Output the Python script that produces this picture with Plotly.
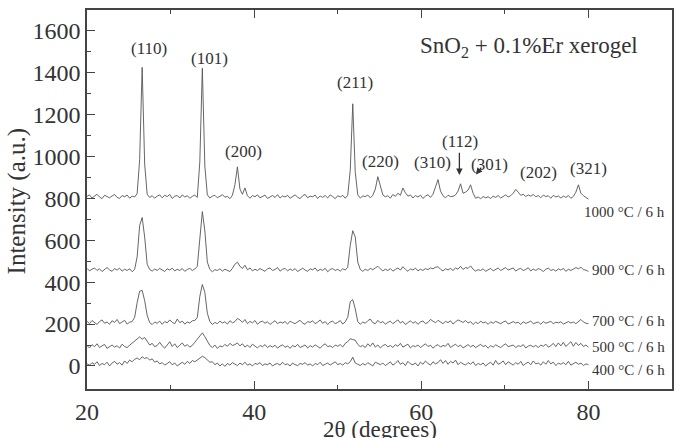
import numpy as np
import plotly.graph_objects as go

# 2-theta sampling (degrees), 20..80 in 0.3 steps
two_theta = np.linspace(20, 80, 201)

# vertical stacking offsets of each pattern (a.u.)
offsets = {"1000": 805, "900": 456, "700": 202, "500": 88, "400": 0}

i1000 = [
    5, 12, -3, 8, 15, 2, -6, 10, 4, -2,
    7, 14, 0, -5, 9, 3, 11, -4, 6, 2,
    18, 180, 621, 160, 15, 0, 8, -4, 6, 12,
    -2, 10, 4, 14, -5, 6, 9, -3, 12, 2,
    8, -4, 5, 11, 0, 170, 617, 150, 12, -3,
    6, 10, -2, 7, 13, 1, 5, -6, 10, 60,
    146, 40, 15, 45, 8, -4, 9, 3, 12, -2,
    6, 11, -5, 4, 9, 0, 13, -3, 7, 2,
    10, -4, 5, 12, 1, -6, 8, 14, -2, 6,
    3, 11, -5, 7, 0, 9, -3, 12, 4, -6,
    8, 2, 10, -4, 10, 130, 447, 120, 12, -3,
    7, 4, 11, -2, 10, 40, 99, 60, 12, 3,
    8, -4, 14, 5, 20, 10, 45, 22, 6, 12,
    -3, 9, 2, 11, -5, 6, 13, 0, 15, 50,
    85, 30, 8, -2, 10, 4, 5, 12, 30, 65,
    20, 25, 35, 60, 20, -4, 2, -6, 4, -2,
    3, -5, 6, 0, 9, -3, 5, 12, 2, 8,
    20, 38, 25, 10, 15, 4, 12, 6, 14, 3,
    9, -2, 11, 4, 8, -4, 10, 2, 7, -3,
    6, 0, 9, -4, 5, 25, 60, 20, 8, 2,
    -8]

i900 = [
    10, -2, 6, 12, 0, 8, -5, 4, 14, 3,
    -4, 9, 2, 11, -3, 6, 0, 8, -6, 5,
    65, 215, 253, 160, 30, 5, -3, 7, 0, 10,
    4, -5, 8, 2, 11, -2, 6, 0, 9, -4,
    5, 10, 0, 7, 20, 160, 281, 190, 40, 5,
    -6, 4, 0, 8, -3, 6, 2, -5, 10, 30,
    40, 20, 10, 25, 3, 12, -2, 6, 0, 9,
    3, -4, 8, 12, 0, 5, 14, -3, 6, 10,
    -2, 7, 0, 9, -5, 4, 11, 2, -4, 8,
    3, 12, -3, 6, 0, 10, -6, 5, 9, 0,
    6, -3, 8, 2, 15, 120, 190, 160, 40, 5,
    -4, 6, 0, 10, 4, 12, 20, 8, -2, 6,
    0, 9, -3, 5, 12, 2, 18, 6, -4, 8,
    2, 11, -2, 6, 0, 9, 4, 12, 8, 15,
    18, 6, -2, 8, 3, 10, 0, 12, 6, 20,
    5, 14, 10, 22, 6, -3, 4, 0, 8, -4,
    5, 10, -2, 6, 12, 0, 8, 14, 2, 9,
    12, -3, 6, 10, 0, 5, 13, -2, 7, 0,
    9, 4, -5, 6, 11, 0, 5, -3, 8, 2,
    10, -4, 6, 0, 9, 14, 8, 16, 4, 2,
    -5]

i700 = [
    12, 0, 15, 5, -4, 10, 18, 2, 8, -3,
    14, 6, 20, 0, 9, 16, -2, 7, 10, 30,
    100, 155, 159, 110, 40, 5, -4, 8, 2, 12,
    -3, 10, 4, 18, 6, 0, 22, 5, 12, -2,
    8, 3, 14, 15, 30, 130, 187, 150, 50, 10,
    -4, 6, 0, 12, 3, 9, -2, 14, 4, 10,
    25, 18, 6, 20, 0, 11, 4, 15, -3, 8,
    12, 2, 9, -4, 6, 14, 0, 8, 3, 10,
    -2, 12, 5, 0, 9, 16, 3, -3, 10, 6,
    14, 0, 7, 18, 2, 10, -4, 8, 12, 0,
    6, 15, -2, 9, 30, 105, 115, 70, 10, -3,
    8, 2, 14, 22, 5, 0, 16, 4, 10, -2,
    6, 12, 0, 9, 18, 3, 11, -4, 7, 14,
    2, 10, -3, 8, 13, 0, 6, 20, 12, 4,
    16, 8, 0, 11, 5, 14, -2, 9, 18, 12,
    6, 15, 3, 10, -4, 7, 0, 12, 4, 8,
    -3, 9, 2, 11, 5, 0, 8, 13, -2, 6,
    10, 3, 7, -4, 9, 1, 6, 12, 0, 5,
    8, -3, 10, 2, 6, 11, 0, 7, 4, 9,
    -2, 6, 10, 3, 8, 0, 12, 20, 8, 2,
    0]

i500 = [
    10, -2, 14, 4, 18, 0, 8, 15, -4, 6,
    12, 2, 9, -3, 16, 5, 0, 11, 20, 30,
    38, 51, 40, 48, 30, 12, 20, 4, 10, 25,
    8, -3, 12, 28, 5, 18, 0, 9, 22, 6,
    14, 2, 10, 25, 40, 58, 70, 52, 30, 10,
    0, 12, -4, 8, 3, 15, 6, 20, 10, 14,
    22, 8, 18, 2, 12, 0, 16, 6, -2, 10,
    4, 14, 0, 9, 2, 11, -3, 7, 13, 1,
    8, -4, 10, 3, 15, 0, 6, 12, -2, 9,
    2, 13, 5, -3, 10, 18, 4, 8, 0, 12,
    6, 14, 3, 20, 28, 42, 38, 35, 15, 4,
    10, 0, 18, 6, 22, 2, 12, -2, 9, 15,
    3, 10, 0, 14, 6, 20, 2, 8, 16, -2,
    9, 4, 12, 0, 7, 18, 5, 11, -3, 8,
    14, 2, 10, 6, 20, 0, 9, 16, 4, 12,
    -2, 8, 14, 3, 11, 0, 7, 15, 5, 10,
    -3, 9, 2, 13, 6, 0, 10, 18, 4, 8,
    12, 0, 9, 5, 14, -2, 7, 11, 3, 10,
    0, 12, 6, 16, 2, 9, 20, 4, 22, 8,
    25, 5, 18, 28, 6, 24, 10, 20, 5, 12,
    2]

i400 = [
    10, 4, 16, 8, 20, 2, 12, 6, 18, 0,
    14, 22, 8, 16, 4, 24, 12, 28, 20, 32,
    38, 30, 44, 36, 40, 28, 34, 18, 24, 10,
    16, 4, 12, 20, 6, 14, 0, 10, 18, 8,
    22, 12, 26, 20, 30, 38, 46, 40, 30, 18,
    20, 6, 14, 0, 10, -2, 12, 4, 16, 8,
    2, 14, 6, 18, 4, 10, 0, 12, 8, 16,
    2, 10, 6, 14, 0, 8, 12, 4, 18, 6,
    10, 0, 14, 6, 2, 12, 8, 16, 4, 10,
    0, 12, 6, 18, 2, 8, 14, 4, 10, 20,
    6, 12, 4, 16, 10, 20, 42, 14, 8, 2,
    12, 4, 16, 8, 0, 18, 10, 6, 14, 2,
    10, 20, 4, 12, 26, 8, 16, 2, 22, 10,
    6, 14, 0, 18, 8, 24, 12, 4, 20, 10,
    16, 30, 12, 26, 8, 22, 14, 28, 6, 18,
    10, 4, 16, 8, 20, 2, 12, 6, 14, 0,
    10, 18, 4, 26, 8, 14, 24, 6, 20, 10,
    4, 16, 8, 22, 2, 12, 18, 6, 24, 10,
    14, 4, 20, 8, 26, 10, 18, 2, 14, 8,
    16, 6, 22, 4, 12, 18, 8, 14, 2, 10,
    6]

series = {"1000": i1000, "900": i900, "700": i700, "500": i500, "400": i400}

# curve labels: (text, y position)
curve_labels = [("1000 °C / 6 h", 737), ("900 °C / 6 h", 456), ("700 °C / 6 h", 215),
                ("500 °C / 6 h", 92), ("400 °C / 6 h", -19)]

# Miller index labels: (text, x, y)
hkl_labels = [("(110)", 27.44, 1516), ("(101)", 34.61, 1469), ("(200)", 38.67, 1022),
              ("(211)", 52.02, 1353), ("(220)", 55.16, 978), ("(310)", 61.34, 973),
              ("(112)", 64.65, 1073), ("(301)", 68.18, 962), ("(202)", 74.0, 923),
              ("(321)", 80.06, 942)]

FONT = "Liberation Serif"
INK = "#333333"

fig = go.Figure()
for key, vals in series.items():
    fig.add_trace(go.Scatter(
        x=two_theta, y=np.array(vals) + offsets[key], mode="lines",
        line=dict(color="#555555", width=0.9), showlegend=False, hoverinfo="skip"))

ann = []
for text, x, y in hkl_labels:
    ann.append(dict(x=x, y=y, xref="x", yref="y", text=text, showarrow=False,
                    font=dict(family=FONT, size=17, color=INK)))
for text, y in curve_labels:
    ann.append(dict(x=89.4, y=y, xref="x", yref="y", text=text, showarrow=False,
                    xanchor="right", font=dict(family=FONT, size=15, color=INK)))
# arrows to (112) and (301)
ann.append(dict(x=64.56, y=912, ax=64.56, ay=1026, xref="x", yref="y", axref="x", ayref="y",
                text="", showarrow=True, arrowhead=2, arrowsize=1, arrowwidth=1.3, arrowcolor=INK))
ann.append(dict(x=66.54, y=914, ax=67.31, ay=954, xref="x", yref="y", axref="x", ayref="y",
                text="", showarrow=True, arrowhead=2, arrowsize=1, arrowwidth=1.3, arrowcolor=INK))
ann.append(dict(x=72.93, y=1524, xref="x", yref="y", text="SnO<sub>2</sub> + 0.1%Er xerogel",
                showarrow=False, font=dict(family=FONT, size=23, color=INK)))
# axis titles
ann.append(dict(x=-0.119, y=0.496, xref="paper", yref="paper", text="Intensity (a.u.)",
                textangle=-90, showarrow=False, xanchor="center", yanchor="middle",
                font=dict(family=FONT, size=25, color=INK)))
ann.append(dict(x=0.5, y=-0.108, xref="paper", yref="paper", text="2θ (degrees)",
                xanchor="center", yanchor="middle", showarrow=False,
                font=dict(family=FONT, size=23, color=INK)))

axis_common = dict(showline=True, linecolor="#444444", linewidth=1.5, ticks="inside",
                   ticklen=8, tickwidth=1.2, tickcolor="#444444", showgrid=False,
                   zeroline=False, tickfont=dict(family=FONT, size=24, color=INK))

fig.update_layout(
    width=682, height=438, margin=dict(l=87, r=9, t=8, b=49),
    paper_bgcolor="white", plot_bgcolor="white",
    xaxis=dict(range=[20, 90], tick0=0, dtick=20, mirror="ticks",
               minor=dict(dtick=10, ticks="inside", ticklen=4, tickcolor="#444444"),
               **axis_common),
    yaxis=dict(range=[-110, 1700], tick0=0, dtick=200, mirror=True,
               minor=dict(tickvals=list(range(100, 1700, 200)), ticks="inside", ticklen=4,
                          tickcolor="#444444"),
               **axis_common),
    annotations=ann,
)

fig.write_html("out.html")
